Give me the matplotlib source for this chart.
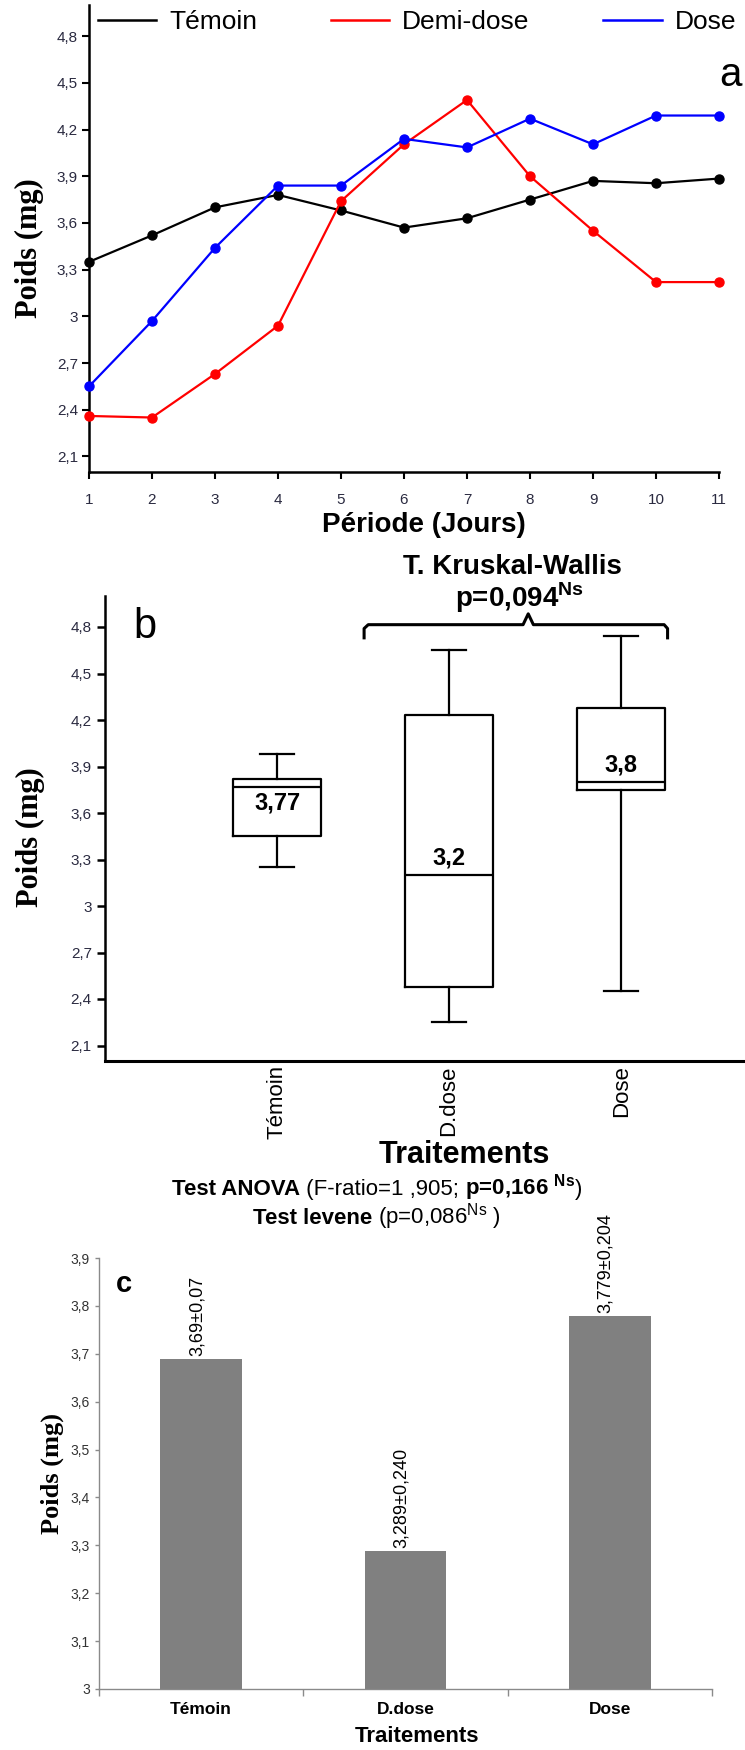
import matplotlib
matplotlib.use('Agg')
import numpy as np
import matplotlib.pyplot as plt
from matplotlib.lines import Line2D
from matplotlib.ticker import FuncFormatter
from matplotlib.offsetbox import TextArea, HPacker, AnnotationBbox

plt.rcParams['font.family'] = ['Liberation Sans', 'DejaVu Sans']
plt.rcParams['mathtext.fontset'] = 'custom'
plt.rcParams['mathtext.rm'] = 'Liberation Sans'
plt.rcParams['mathtext.bf'] = 'Liberation Sans:bold'

# (a) poids moyen par jour
jours = list(range(1, 12))
temoin = [3.35, 3.52, 3.70, 3.78, 3.68, 3.57, 3.63, 3.75, 3.87, 3.855, 3.885]
demi_dose = [2.36, 2.35, 2.63, 2.94, 3.74, 4.105, 4.39, 3.90, 3.55, 3.22, 3.22]
dose = [2.55, 2.97, 3.44, 3.84, 3.84, 4.14, 4.085, 4.27, 4.105, 4.29, 4.29]
series = ['Témoin', 'Demi-dose', 'Dose']

# (b) boites a moustaches
traitements = ['Témoin', 'D.dose', 'Dose']
moust_bas = [3.25, 2.25, 2.45]
q1 = [3.45, 2.48, 3.75]
mediane = [3.77, 3.2, 3.8]
q3 = [3.82, 4.235, 4.28]
moust_haut = [3.98, 4.65, 4.74]

# (c) moyennes +- erreur
moyennes = [3.69, 3.289, 3.779]
erreurs = ['0,07', '0,240', '0,204']

TICKCOL = '#2a2a40'
W, H = 745, 1750


def virgule(v, pos=None):
    return ('%g' % round(v, 3)).replace('.', ',')


def fig_frac(x, y):
    return x / W, 1 - y / H


def ligne_mixte(fig, x, y, morceaux, size):
    # texte centre compose de morceaux gras / normal
    boxes = [TextArea(t, textprops=dict(fontsize=size, fontweight=w))
             for t, w in morceaux]
    pack = HPacker(children=boxes, align='baseline', pad=0, sep=0)
    ab = AnnotationBbox(pack, fig_frac(x, y), xycoords='figure fraction',
                        box_alignment=(0.5, 0.5), frameon=False, pad=0)
    fig.add_artist(ab)


fig = plt.figure(figsize=(7.45, 17.5), dpi=100)

# ---------------- a ----------------
ax1 = fig.add_axes([89 / W, 1 - 472 / H, 630 / W, 467 / H])
couleurs = ['black', 'red', 'blue']
for vals, col in zip([temoin, demi_dose, dose], couleurs):
    ax1.plot(jours, vals, '-o', color=col, lw=1.6, ms=6.5, clip_on=False, zorder=3)
ax1.set_xlim(1, 11)
ax1.set_ylim(2.0, 5.0)
ax1.set_xticks(jours)
ax1.set_yticks(np.arange(2.1, 4.81, 0.3))
ax1.yaxis.set_major_formatter(FuncFormatter(virgule))
for s in ['top', 'right']:
    ax1.spines[s].set_visible(False)
for s in ['left', 'bottom']:
    ax1.spines[s].set_linewidth(1.8)
ax1.tick_params(direction='out', length=5, width=1.5, labelsize=11,
                labelcolor=TICKCOL, pad=3)
ax1.tick_params(axis='x', pad=10)
ax1.set_ylabel('Poids (mg)', family='Liberation Serif', fontweight='bold',
               fontsize=22, va='center')
ax1.yaxis.set_label_coords(-0.094, 0.480)
ax1.set_xlabel('Période (Jours)', fontweight='bold', fontsize=20, va='center')
ax1.xaxis.set_label_coords(0.532, -0.113)
poignees = [Line2D([], [], color=c, lw=1.8) for c in couleurs]
ax1.legend(poignees, series, loc='center left', bbox_to_anchor=(0.014, 0.964),
           ncol=3, frameon=False, fontsize=19, handlelength=2.2,
           handletextpad=0.5, columnspacing=2.8, borderpad=0, borderaxespad=0)
ax1.text(1.019, 0.850, 'a', transform=ax1.transAxes, fontsize=29,
         ha='center', va='center')

# ---------------- b ----------------
ax2 = fig.add_axes([105 / W, 1 - 1061 / H, 640 / W, 465 / H])
stats = [dict(med=m, q1=a, q3=b, whislo=lo, whishi=hi, fliers=[])
         for m, a, b, lo, hi in zip(mediane, q1, q3, moust_bas, moust_haut)]
trait = dict(color='black', lw=1.6)
ax2.bxp(stats, positions=[1, 2, 3], widths=0.51, showfliers=False,
        boxprops=trait, whiskerprops=trait, capprops=trait, medianprops=trait,
        capwidths=0.2)
ax2.set_xlim(0, 3.72)
ax2.set_ylim(2.0, 5.0)
ax2.set_yticks(np.arange(2.1, 4.81, 0.3))
ax2.yaxis.set_major_formatter(FuncFormatter(virgule))
ax2.set_xticks([1, 2, 3])
ax2.set_xticklabels(traitements, rotation=90, fontsize=16)
for s in ['top', 'right']:
    ax2.spines[s].set_visible(False)
ax2.spines['left'].set_linewidth(1.8)
ax2.spines['bottom'].set_linewidth(2.2)
ax2.tick_params(axis='y', direction='out', length=6, width=1.8, labelsize=11,
                labelcolor=TICKCOL)
ax2.tick_params(axis='x', length=0, pad=3)
ax2.set_ylabel('Poids (mg)', family='Liberation Serif', fontweight='bold',
               fontsize=22, va='center')
ax2.yaxis.set_label_coords(-0.117, 0.482)
ax2.set_xlabel('Traitements', fontweight='bold', fontsize=22, va='center')
ax2.xaxis.set_label_coords(0.561, -0.202)
for i, m in enumerate(mediane):
    dy = -12 if i == 0 else 12
    ax2.annotate(virgule(m), (i + 1, m), xytext=(0, dy), textcoords='offset points',
                 ha='center', va='center', fontsize=17, fontweight='bold')
ax2.text(0.0625, 0.933, 'b', transform=ax2.transAxes, fontsize=30,
         ha='center', va='center')

# accolade du test de Kruskal-Wallis
bx = [1.506, 1.506, 1.53, 2.43, 2.46, 2.49, 3.25, 3.27, 3.27]
by = [4.73, 4.79, 4.815, 4.815, 4.885, 4.815, 4.815, 4.79, 4.73]
ax2.plot(bx, by, color='black', lw=2.2, clip_on=False, solid_joinstyle='round')
ax2.text(2.366, 5.184, 'T. Kruskal-Wallis', fontsize=20, fontweight='bold',
         ha='center', va='center')
ax2.text(2.41, 4.99, r'p=0,094$^{\mathbf{Ns}}$', fontsize=20, fontweight='bold',
         ha='center', va='center')

ligne_mixte(fig, 377, 1188, [('Test ANOVA', 'bold'),
                             (' (F-ratio=1 ,905;', 'normal'),
                             (r' p=0,166 $^{\mathbf{Ns}}$', 'bold'),
                             (')', 'normal')], 16)
ligne_mixte(fig, 377, 1217, [('Test levene', 'bold'),
                             (r' (p=0,086$^{\mathrm{Ns}}$ )', 'normal')], 16)

# ---------------- c ----------------
ax3 = fig.add_axes([99 / W, 1 - 1689 / H, 613 / W, 431 / H])
ax3.bar(range(3), moyennes, width=0.4, color='#808080')
ax3.set_xlim(-0.5, 2.5)
ax3.set_ylim(3.0, 3.9)
ax3.set_yticks(np.arange(3.0, 3.91, 0.1))
ax3.yaxis.set_major_formatter(FuncFormatter(virgule))
ax3.set_xticks([0, 1, 2])
ax3.set_xticklabels(traitements, fontsize=12.5, fontweight='bold')
ax3.set_xticks([-0.5, 0.5, 1.5, 2.5], minor=True)
for s in ['top', 'right']:
    ax3.spines[s].set_visible(False)
for s in ['left', 'bottom']:
    ax3.spines[s].set_color('#8a8a8a')
    ax3.spines[s].set_linewidth(1.0)
ax3.tick_params(axis='y', direction='out', length=3, width=1, color='#8a8a8a',
                labelsize=10, labelcolor='#333333')
ax3.tick_params(axis='x', which='major', length=0, pad=9)
ax3.tick_params(axis='x', which='minor', direction='out', length=5, width=1,
                color='#8a8a8a')
ax3.set_ylabel('Poids (mg)', family='Liberation Serif', fontweight='bold',
               fontsize=19, va='center')
ax3.yaxis.set_label_coords(-0.077, 0.5)
ax3.set_xlabel('Traitements', fontweight='bold', fontsize=16, va='center')
ax3.xaxis.set_label_coords(0.519, -0.11)
for i, (m, e) in enumerate(zip(moyennes, erreurs)):
    ax3.annotate(virgule(m) + '±' + e, (i, m), xytext=(-3, 2),
                 textcoords='offset points', ha='center', va='bottom',
                 rotation=90, fontsize=13, annotation_clip=False)
ax3.text(0.04, 0.94, 'c', transform=ax3.transAxes, fontsize=21,
         fontweight='bold', ha='center', va='center')

fig.savefig('out.png', dpi=100)
